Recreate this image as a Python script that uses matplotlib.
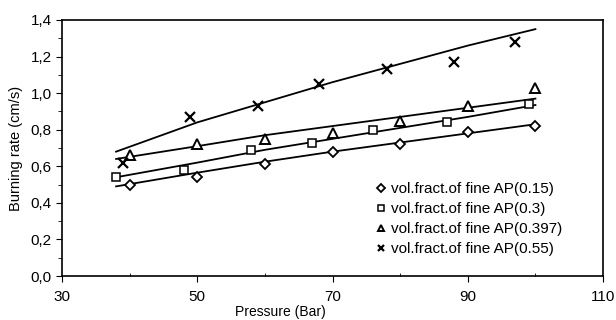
import matplotlib
matplotlib.use("Agg")
import matplotlib.pyplot as plt
from matplotlib.ticker import FuncFormatter, MultipleLocator

plt.rcParams['font.family'] = ['Liberation Sans', 'DejaVu Sans']

# measured points
p_015 = [40, 50, 60, 70, 80, 90, 100]
r_015 = [0.50, 0.54, 0.61, 0.68, 0.72, 0.79, 0.82]
p_030 = [38, 48, 58, 67, 76, 87, 99]
r_030 = [0.54, 0.58, 0.69, 0.73, 0.80, 0.84, 0.94]
p_0397 = [40, 50, 60, 70, 80, 90, 100]
r_0397 = [0.66, 0.72, 0.75, 0.78, 0.85, 0.93, 1.03]
p_055 = [39, 49, 59, 68, 78, 88, 97]
r_055 = [0.62, 0.87, 0.93, 1.05, 1.13, 1.17, 1.28]

# trend lines
p_fit = [38, 50, 60, 70, 80, 90, 100]
fit_015 = [0.49, 0.565, 0.625, 0.68, 0.73, 0.78, 0.83]
fit_030 = [0.54, 0.62, 0.69, 0.75, 0.81, 0.87, 0.935]
fit_0397 = [0.64, 0.71, 0.77, 0.82, 0.87, 0.92, 0.97]
fit_055 = [0.68, 0.84, 0.95, 1.06, 1.16, 1.26, 1.35]

x_ticks = [30, 50, 70, 90, 110]

labels = ['vol.fract.of fine AP(0.15)', 'vol.fract.of fine AP(0.3)',
          'vol.fract.of fine AP(0.397)', 'vol.fract.of fine AP(0.55)']

fig = plt.figure(figsize=(6.16, 3.2), dpi=100)
ax = fig.add_axes([0.1006, 0.1375, 0.8784, 0.8])

for fit in [fit_015, fit_030, fit_0397, fit_055]:
    ax.plot(p_fit, fit, color='black', lw=1.3)

ax.plot(p_015, r_015, 'D', ms=5.2, mfc='white', mec='black', mew=1.3, ls='none', label=labels[0])
ax.plot(p_030, r_030, 's', ms=5.8, mfc='white', mec='black', mew=1.1, ls='none', label=labels[1])
ax.plot(p_0397, r_0397, '^', ms=6.5, mfc='white', mec='black', mew=1.4, ls='none', label=labels[2])
ax.plot(p_055, r_055, 'x', ms=6.5, mec='black', mew=1.6, ls='none', label=labels[3])

ax.set_xlim(30, 110)
ax.set_ylim(0, 1.4)
ax.set_xticks(x_ticks)
ax.xaxis.set_minor_locator(MultipleLocator(10))
ax.yaxis.set_major_locator(MultipleLocator(0.2))
ax.yaxis.set_minor_locator(MultipleLocator(0.1))
ax.yaxis.set_major_formatter(FuncFormatter(lambda v, _: f'{v:.1f}'.replace('.', ',')))
ax.tick_params(axis='both', which='major', direction='out', length=4, labelsize=11)
ax.tick_params(axis='x', which='major', pad=6)
ax.tick_params(axis='x', which='minor', direction='in', length=2)
ax.tick_params(axis='y', which='minor', direction='out', length=3)
for s in ax.spines.values():
    s.set_linewidth(1.2)

ax.set_xlabel('Pressure (Bar)', fontsize=10)
ax.xaxis.set_label_coords(0.403, -0.115)
ax.set_ylabel('Burning rate (cm/s)', fontsize=10.5, labelpad=5)

ax.legend(loc='lower left', bbox_to_anchor=(0.555, 0.025), frameon=False, fontsize=11,
          handlelength=0.6, handletextpad=0.4, labelspacing=0.38, markerscale=0.75)

fig.savefig('out.png', dpi=100)
